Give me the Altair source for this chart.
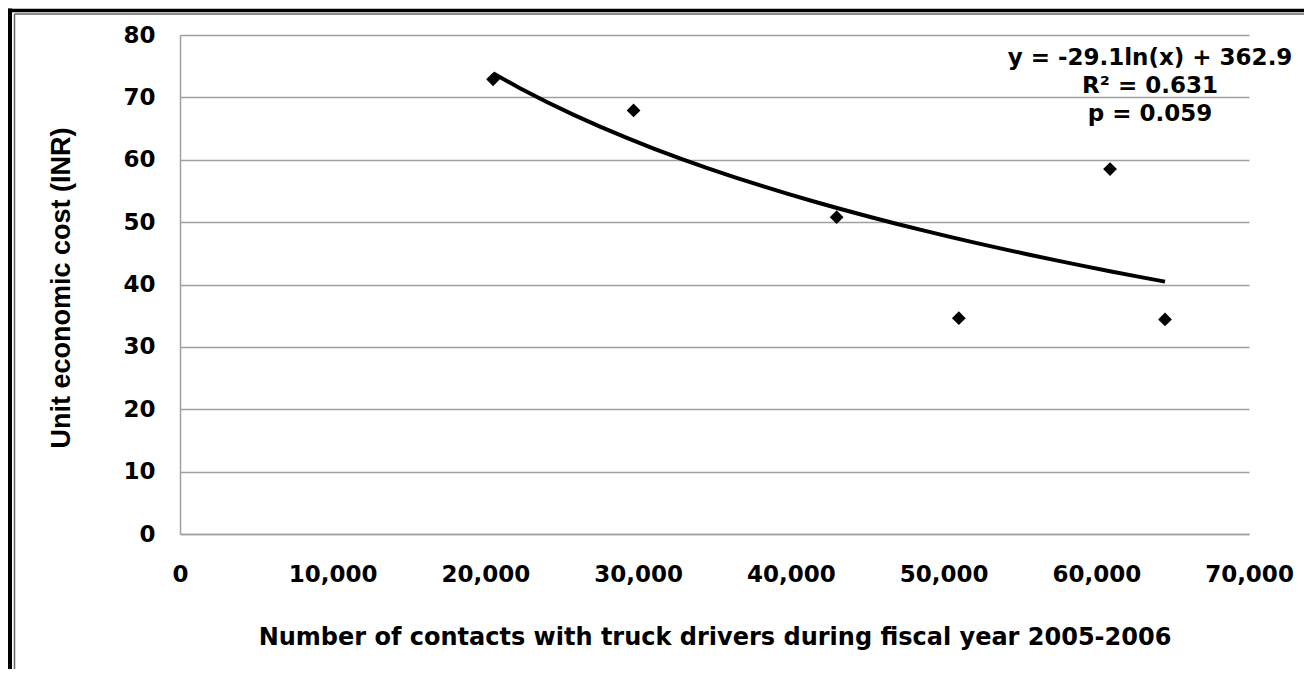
import altair as alt
import pandas as pd

# Data
contacts = [20500, 29700, 43000, 51000, 60900, 64500]
unit_cost = [72.9, 67.9, 50.8, 34.6, 58.5, 34.4]
x_ticks = [0, 10000, 20000, 30000, 40000, 50000, 60000, 70000]
y_ticks = [0, 10, 20, 30, 40, 50, 60, 70, 80]
annotation = ["y = -29.1ln(x) + 362.9", "R\u00b2 = 0.631", "p = 0.059"]

df = pd.DataFrame({"x": contacts, "y": unit_cost})

W, H = 1069, 499
TICK_FONT = "DejaVu Sans"
GRID = "#a0a0a0"

x_enc = alt.X(
    "x:Q",
    scale=alt.Scale(domain=[0, 70000], nice=False),
    axis=alt.Axis(
        values=x_ticks, format=",d", grid=False, ticks=False,
        domainColor=GRID, domainWidth=1.5, labelFlush=False,
        labelFont=TICK_FONT, labelFontSize=23, labelFontWeight="bold",
        labelColor="black", labelPadding=29, labelBaseline="top",
        title="Number of contacts with truck drivers during fiscal year 2005-2006",
        titleFont=TICK_FONT, titleFontSize=24, titleFontWeight="bold",
        titleColor="black", titleBaseline="middle", titleY=103,
    ),
)
y_enc = alt.Y(
    "y:Q",
    scale=alt.Scale(domain=[0, 80], nice=False),
    axis=alt.Axis(
        values=y_ticks, grid=True, gridColor=GRID, gridWidth=1.5,
        ticks=False, domainColor=GRID, domainWidth=1.5, labelFlush=False,
        labelFont=TICK_FONT, labelFontSize=23, labelFontWeight="bold",
        labelColor="black", labelPadding=25,
        title="Unit economic cost (INR)",
        titleFont="Liberation Sans", titleFontSize=27, titleFontWeight="bold",
        titleColor="black", titleAngle=-90, titleBaseline="middle",
        titleX=-119, titleY=H / 2 + 3,
    ),
)

points = alt.Chart(df).mark_point(
    shape="diamond", filled=True, color="black", size=190, opacity=1
).encode(x=x_enc, y=y_enc)

trend = alt.Chart(df).transform_regression(
    "x", "y", method="log"
).mark_line(color="black", strokeWidth=4).encode(x="x:Q", y="y:Q")

one = alt.Data(values=[{}])

label = alt.Chart(one).mark_text(
    font=TICK_FONT, fontSize=23, fontWeight="bold", color="black",
    align="center", baseline="top", lineHeight=28
).encode(x=alt.value(970), y=alt.value(12), text=alt.value(annotation))

frame_left = alt.Chart(one).mark_rule(color="black", strokeWidth=4).encode(
    x=alt.value(-170), y=alt.value(-26.5), y2=alt.value(660)
)
frame_top = alt.Chart(one).mark_rule(color="black", strokeWidth=3.5).encode(
    x=alt.value(-172), x2=alt.value(W + 80), y=alt.value(-24.5)
)
frame_left2 = alt.Chart(one).mark_rule(color="#666666", strokeWidth=1.5).encode(
    x=alt.value(-165.5), y=alt.value(-21), y2=alt.value(660)
)
frame_top2 = alt.Chart(one).mark_rule(color="#666666", strokeWidth=1.5).encode(
    x=alt.value(-165.5), x2=alt.value(W + 80), y=alt.value(-21)
)

chart = alt.layer(
    points, trend, label, frame_left, frame_top, frame_left2, frame_top2
).properties(
    width=W, height=H,
    autosize=alt.AutoSizeParams(type="none"),
    padding={"left": 172, "top": 27, "right": 55, "bottom": 135},
    background="white",
).configure_view(stroke=None)

chart.save("out.html", embed_options={"renderer": "svg", "actions": False})
